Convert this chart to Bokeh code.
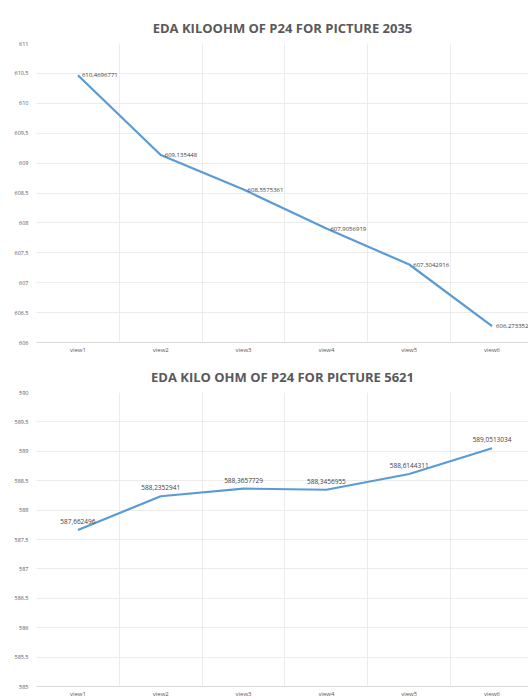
from bokeh.plotting import figure
from bokeh.layouts import column
from bokeh.models import Range1d, FixedTicker
from bokeh.core.properties import value
from bokeh.embed import file_html
from bokeh.resources import INLINE

categories = ["view1", "view2", "view3", "view4", "view5", "view6"]

title_2035 = "EDA KILOOHM OF P24 FOR PICTURE 2035"
values_2035 = [610.4696771, 609.135448, 608.5575361, 607.9056919, 607.3042916, 606.273352]
labels_2035 = ["610,4696771", "609,135448", "608,5575361", "607,9056919", "607,3042916", "606,273352"]
yticks_2035 = [606, 606.5, 607, 607.5, 608, 608.5, 609, 609.5, 610, 610.5, 611]

title_5621 = "EDA KILO OHM OF P24 FOR PICTURE 5621"
values_5621 = [587.662496, 588.2352941, 588.3657729, 588.3456955, 588.6144311, 589.0513034]
labels_5621 = ["587,662496", "588,2352941", "588,3657729", "588,3456955", "588,6144311", "589,0513034"]
yticks_5621 = [585, 585.5, 586, 586.5, 587, 587.5, 588, 588.5, 589, 589.5, 590]

FONT = "Open Sans"
LINE = "#5B9BD5"
GRID = "#ececec"
TXT = "#595959"


def fmt(t):
    return str(int(t)) if float(t).is_integer() else str(t).replace(".", ",")


def make_chart(title, vals, labels, yticks, height, top, bottom, label_mode):
    xs = [i + 0.5 for i in range(len(categories))]
    p = figure(width=528, height=height, output_backend="svg", toolbar_location=None,
               x_range=Range1d(0, 5.94), y_range=Range1d(yticks[0], yticks[-1]),
               min_border_left=36, min_border_right=0, min_border_top=top,
               min_border_bottom=bottom)
    p.title.text = title
    p.title.align = "center"
    p.title.text_font = FONT
    p.title.text_font_size = "13px"
    p.title.text_font_style = "bold"
    p.title.text_color = TXT
    p.title.standoff = 14
    p.outline_line_color = None
    p.background_fill_color = "white"
    p.border_fill_color = "white"

    p.xaxis.ticker = FixedTicker(ticks=xs)
    p.xaxis.major_label_overrides = {x: c for x, c in zip(xs, categories)}
    p.xaxis.axis_line_color = "#d9d9d9"
    p.xaxis.major_tick_line_color = None
    p.xaxis.minor_tick_line_color = None
    p.xaxis.major_tick_out = 0
    p.xaxis.major_label_standoff = 3
    p.xaxis.major_label_text_font = FONT
    p.xaxis.major_label_text_font_size = "6px"
    p.xaxis.major_label_text_color = TXT

    p.yaxis.ticker = FixedTicker(ticks=yticks)
    p.yaxis.major_label_overrides = {t: fmt(t) for t in yticks}
    p.yaxis.axis_line_color = None
    p.yaxis.major_tick_line_color = None
    p.yaxis.minor_tick_line_color = None
    p.yaxis.major_tick_out = 0
    p.yaxis.major_label_standoff = 8
    p.yaxis.major_label_text_font = FONT
    p.yaxis.major_label_text_font_size = "5.5px"
    p.yaxis.major_label_text_color = TXT

    p.xgrid.ticker = FixedTicker(ticks=list(range(len(categories) + 1)))
    p.xgrid.grid_line_color = GRID
    p.ygrid.grid_line_color = GRID

    p.line(xs, vals, line_color=LINE, line_width=2.2)
    if label_mode == "right":
        p.text(xs, vals, text=labels, x_offset=4, text_align="left", text_baseline="middle",
               text_font=value(FONT), text_font_size="6px", text_color="#404040")
    else:
        p.text(xs, vals, text=labels, y_offset=-6, text_align="center", text_baseline="bottom",
               text_font=value(FONT), text_font_size="6.5px", text_color="#404040")
    return p


p1 = make_chart(title_2035, values_2035, labels_2035, yticks_2035, 358, 43, 16, "right")
p2 = make_chart(title_5621, values_5621, labels_5621, yticks_5621, 342, 33, 10, "above")

layout = column(p1, p2, spacing=0)
open("out.html", "w").write(file_html(layout, INLINE))
